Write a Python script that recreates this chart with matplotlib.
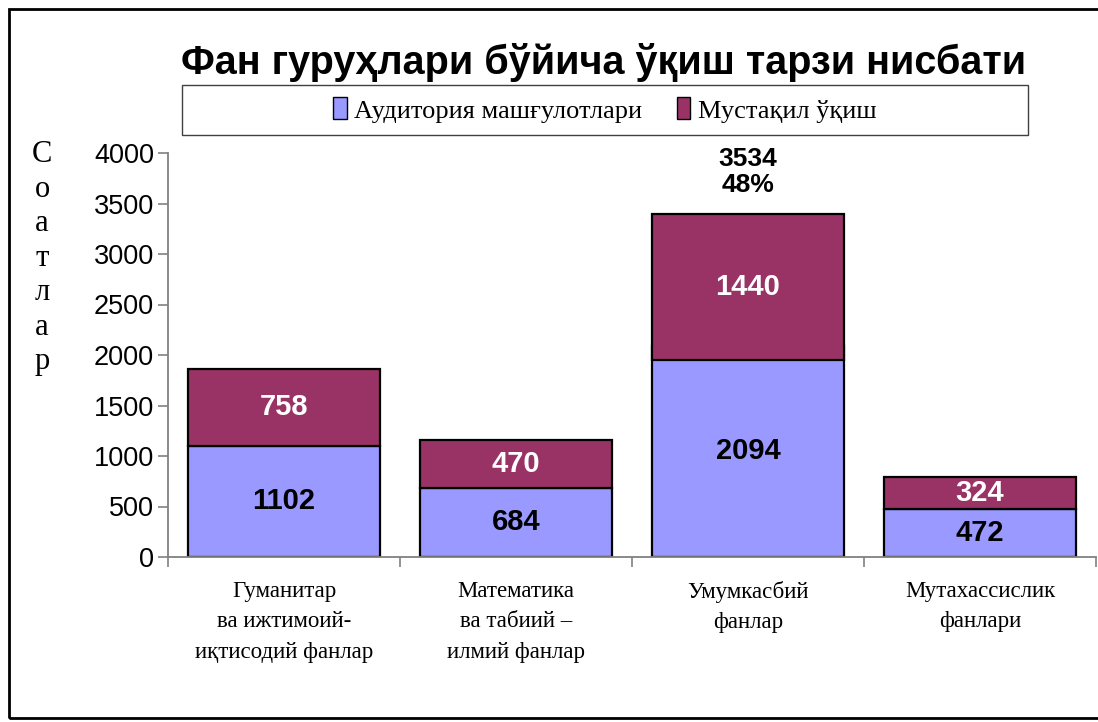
import numpy as np
import matplotlib
matplotlib.use("Agg")
import matplotlib.pyplot as plt
from matplotlib.patches import Rectangle, Patch

# data
categories = ["Гуманитар\nва ижтимоий-\nиқтисодий фанлар",
              "Математика\nва табиий –\nилмий фанлар",
              "Умумкасбий\nфанлар",
              "Мутахассислик\nфанлари"]
auditoriya = [1102, 684, 2094, 472]
mustaqil = [758, 470, 1440, 324]
# in the original the 3rd red block sits a bit lower than the top of the blue one
red_drop = [0, 0, 140, 0]
highlight = 2  # bar that gets the total + share label

series_names = ["Аудитория машғулотлари", "Мустақил ўқиш"]
col_blue = "#9999FF"
col_red = "#993366"

sans = ["Liberation Sans", "DejaVu Sans"]
serif = ["Liberation Serif", "DejaVu Serif"]

fig = plt.figure(figsize=(10.98, 7.22), dpi=100)
ax = fig.add_axes([168 / 1098, 1 - 557 / 722, 928 / 1098, 404 / 722])

x = np.arange(len(categories))
w = 0.83
blue = np.array(auditoriya)
red = np.array(mustaqil)
red_bottom = blue - np.array(red_drop)

ax.bar(x, blue, width=w, color=col_blue, edgecolor="black", linewidth=1.6, zorder=2)
ax.bar(x, red, width=w, bottom=red_bottom, color=col_red, edgecolor="black",
       linewidth=1.6, zorder=3)

for i in range(len(x)):
    ax.text(x[i], blue[i] / 2, str(blue[i]), ha="center", va="center",
            fontsize=21, fontweight="bold", family=sans, color="black", zorder=4)
    ax.text(x[i], red_bottom[i] + red[i] / 2, str(red[i]), ha="center", va="center",
            fontsize=21, fontweight="bold", family=sans, color="white", zorder=4)

totals = blue + red
share = totals[highlight] / totals.sum() * 100
ax.annotate("%d\n%d%%" % (totals[highlight], round(share)),
            xy=(x[highlight], totals[highlight]), xytext=(0, 2),
            textcoords="offset points", ha="center", va="bottom",
            fontsize=19, fontweight="bold", family=sans, linespacing=1.1,
            annotation_clip=False)

ax.set_xlim(-0.5, len(categories) - 0.5)
ax.set_ylim(0, 4000)
ax.set_yticks(np.arange(0, 4001, 500))
for lab in ax.get_yticklabels():
    lab.set_family(sans)
    lab.set_fontsize(19.5)

ax.set_xticks(np.arange(-0.5, len(categories), 1.0))
ax.set_xticklabels([])
ax.set_xticks(x, minor=True)
ax.set_xticklabels(categories, minor=True, family=serif, fontsize=16.5, linespacing=1.6)
ax.tick_params(axis="x", which="minor", length=0, pad=17)
ax.tick_params(axis="x", which="major", length=7, width=1.2, color="#808080", direction="out")
ax.tick_params(axis="y", length=7, width=1.2, color="#808080", direction="out", pad=3)

for s in ["top", "right"]:
    ax.spines[s].set_visible(False)
for s in ["left", "bottom"]:
    ax.spines[s].set_color("#808080")
    ax.spines[s].set_linewidth(1.3)

# title
fig.text(604 / 1098, 1 - 63 / 722, "Фан гуруҳлари бўйича ўқиш тарзи нисбати",
         ha="center", va="center", fontsize=28.5, fontweight="bold", family=sans)

# legend inside a box
box = Rectangle((182 / 1098, 1 - 135 / 722), 846 / 1098, 50 / 722,
                transform=fig.transFigure, facecolor="white", edgecolor="#404040",
                linewidth=1.0)
fig.add_artist(box)
handles = [Patch(facecolor=col_blue, edgecolor="black", linewidth=1.0),
           Patch(facecolor=col_red, edgecolor="black", linewidth=1.0)]
fig.legend(handles, series_names, loc="center", bbox_to_anchor=(605 / 1098, 1 - 110 / 722),
           ncol=2, frameon=False, prop={"family": serif, "size": 19},
           handlelength=0.5, handleheight=0.9, handletextpad=0.3, columnspacing=1.3)

# vertical y label, letter by letter
ylab = "Соатлар"
for k, ch in enumerate(ylab):
    fig.text(42 / 1098, 1 - (155 + k * 34.5) / 722, ch, ha="center", va="center",
             fontsize=22, family=serif)

# outer frame (right side falls outside the picture)
frame = Rectangle((9 / 1098, 1 - 718 / 722), 1.2, 709 / 722, transform=fig.transFigure,
                  facecolor="none", edgecolor="black", linewidth=2.0, clip_on=False)
fig.add_artist(frame)

fig.savefig("out.png", dpi=100)
